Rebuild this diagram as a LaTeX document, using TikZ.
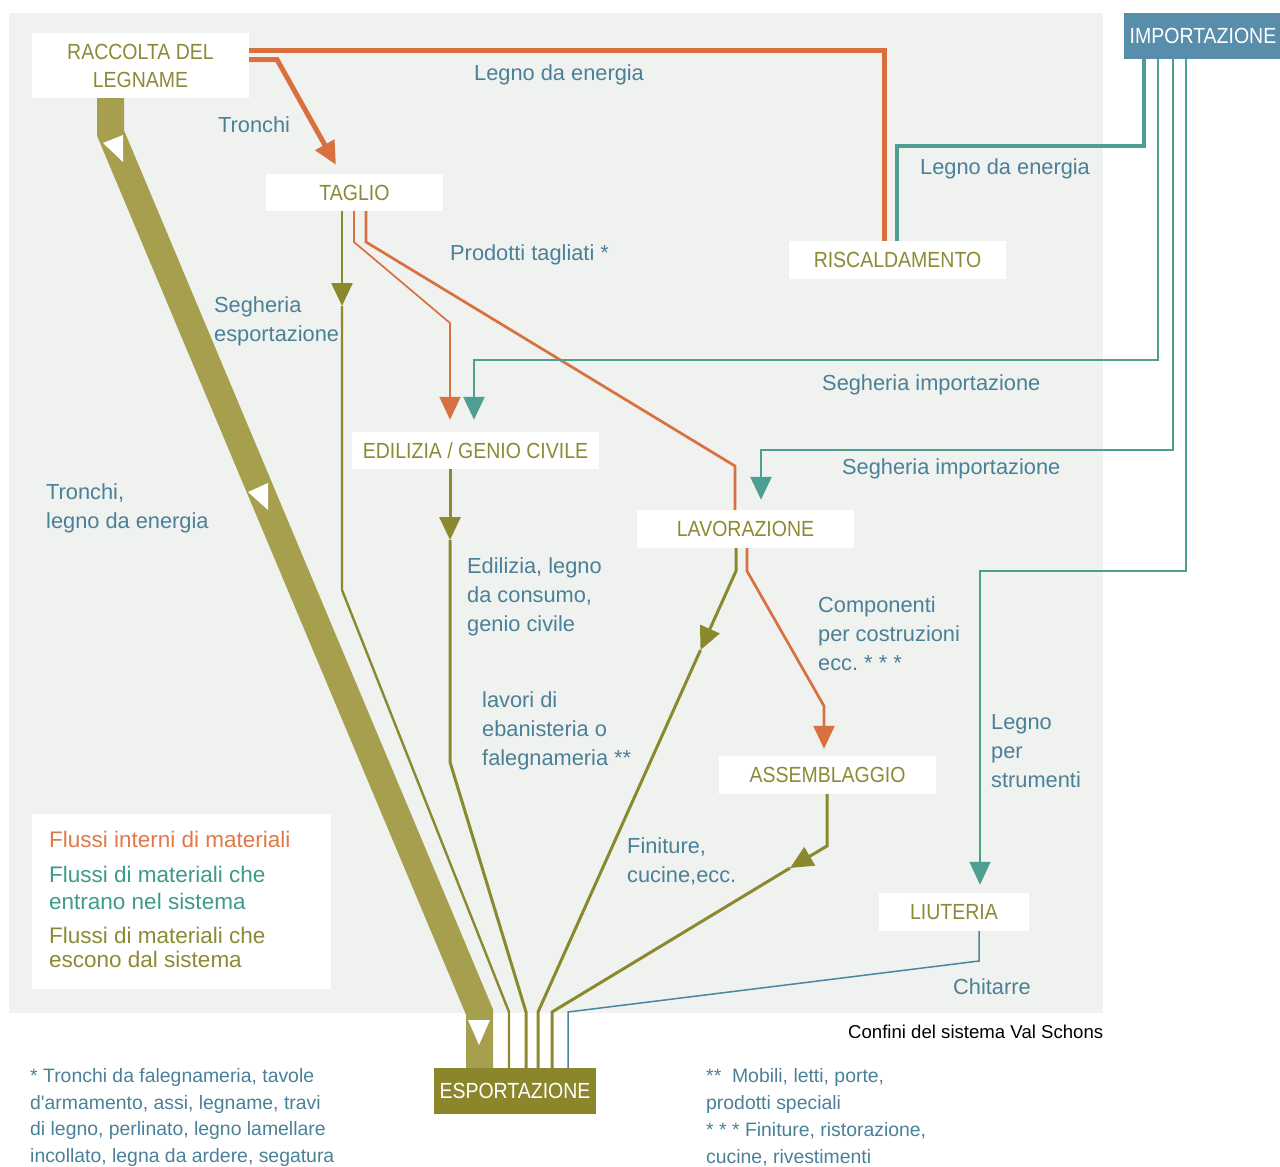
\documentclass[tikz,border=0pt]{standalone}
\usepackage{fontspec}
\setmainfont{Liberation Sans}
\newfontfamily\nodeff{Liberation Sans}[FakeStretch=0.89]
\usetikzlibrary{arrows.meta}
\definecolor{panelbg}{RGB}{240,242,239}
\definecolor{olvline}{RGB}{139,137,46}
\definecolor{olvtext}{RGB}{140,138,52}
\definecolor{bandcol}{RGB}{165,159,78}
\definecolor{orng}{RGB}{217,112,63}
\definecolor{tealA}{RGB}{79,158,148}
\definecolor{lblue}{RGB}{74,128,152}
\definecolor{impbox}{RGB}{88,141,171}
\definecolor{expbox}{RGB}{139,134,44}
\definecolor{chitcol}{RGB}{75,134,160}
\definecolor{legteal}{RGB}{62,154,138}
\definecolor{legorng}{RGB}{224,120,72}
\newcommand{\lblfont}{\fontsize{21.8}{29}\selectfont}
\newcommand{\nodefont}{\nodeff\fontsize{21.9}{28}\selectfont}
\newcommand{\notefontA}{\fontsize{19.4}{26.7}\selectfont}
\newcommand{\notefontB}{\fontsize{19.4}{27}\selectfont}
\newcommand{\legfontA}{\fontsize{22.5}{27}\selectfont}
\newcommand{\legfontB}{\fontsize{22.5}{24}\selectfont}
\newcommand{\confont}{\fontsize{18.6}{22}\selectfont}
\frenchspacing
\begin{document}
\begin{tikzpicture}[x=1pt,y=-1pt,line join=miter,
  nbox/.style={fill=white, inner sep=0pt, text=olvtext, font=\nodefont, align=center},
  lbl/.style={text=lblue, font=\lblfont, inner sep=0pt},
  harrow/.style={-{Triangle[width=21pt,length=23pt]}},
  or5/.style={draw=orng, line width=5pt},
  or3/.style={draw=orng, line width=2.7pt},
  or2/.style={draw=orng, line width=1.7pt},
  te4/.style={draw=tealA, line width=4pt},
  te3/.style={draw=tealA, line width=2.7pt},
  te1/.style={draw=tealA, line width=1.5pt},
  ol3/.style={draw=olvline, line width=3pt},
  ol2/.style={draw=olvline, line width=2.4pt},
  bl1/.style={draw=chitcol, line width=1.5pt},
  bandline/.style={draw=bandcol, line width=27pt}
]
\useasboundingbox (0,0) rectangle (1280,1167);
% system boundary panel
\fill[panelbg] (9,13) rectangle (1103,1013);

% nodes (geometry)
\node[nbox, minimum width=217pt, minimum height=65pt] (raccolta) at (140.5,65.5) {RACCOLTA DEL\\LEGNAME};
\node[nbox, minimum width=177pt, minimum height=37pt] (taglio) at (354.5,192.5) {TAGLIO};
\node[nbox, minimum width=217pt, minimum height=38pt] (riscald) at (897.5,260) {RISCALDAMENTO};
\node[nbox, fill=impbox, text=white, minimum width=158pt, minimum height=46pt] (import) at (1203,36) {IMPORTAZIONE};
\node[nbox, minimum width=247pt, minimum height=37pt] (edil) at (475.5,450.5) {EDILIZIA / GENIO CIVILE};
\node[nbox, minimum width=217pt, minimum height=38pt] (lav) at (745.5,529) {LAVORAZIONE};
\node[nbox, minimum width=217pt, minimum height=38pt] (assem) at (827.5,775) {ASSEMBLAGGIO};
\node[nbox, minimum width=150pt, minimum height=38pt] (liut) at (954,912) {LIUTERIA};
\node[nbox, fill=expbox, text=white, minimum width=162pt, minimum height=46pt] (esport) at (515,1091) {ESPORTAZIONE};
\node[fill=white, inner sep=0pt, minimum width=299pt, minimum height=175pt, anchor=north west] (legend) at (32,814) {};

% mid-path arrow points
\coordinate (aT) at (342,306);
\coordinate (aE) at (450,540);
\coordinate (aL) at (700.5,650);
\coordinate (aA) at (790,868);

% thick band: Tronchi, legno da energia
\draw[bandline] (raccolta.south -| 110.5,0) -- (110.5,133) -- (479.5,1012) -- (esport.north -| 479.5,0);
\fill[white] (103,143) -- (123,135) -- (123,162) -- cycle;
\fill[white] (248,492) -- (268,483) -- (268,510) -- cycle;
\fill[white] (468,1020) -- (490,1020) -- (479,1045) -- cycle;

% internal flows (orange)
\draw[or5] (raccolta.east |- 0,50.5) -- (884.5,50.5) -- (riscald.north -| 884.5,0);
\draw[or5, harrow, shorten >=10.3pt] (raccolta.east |- 0,59.5) -- (277,59.5) -- (taglio.north -| 341,0);
\draw[or2, harrow, shorten >=12pt] (taglio.south -| 354,0) -- (354,242) -- (450,323) -- (edil.north -| 450,0);
\draw[or3] (taglio.south -| 366,0) -- (366,242) -- (735,466) -- (lav.north -| 735,0);
\draw[or3, harrow, shorten >=7pt] (lav.south -| 747,0) -- (747,571) -- (824,706) -- (assem.north -| 824,0);

% incoming flows (teal)
\draw[te4] (import.south -| 1144,0) -- (1144,145.5) -- (897,145.5) -- (riscald.north -| 897,0);
\draw[te3, harrow, shorten >=12pt] (import.south -| 1158,0) -- (1158,360) -- (474,360) -- (edil.north -| 474,0);
\draw[te3, harrow, shorten >=10pt] (import.south -| 1173,0) -- (1173,450) -- (761,450) -- (lav.north -| 761,0);
\draw[te1, harrow, shorten >=8pt] (import.south -| 1186,0) -- (1186,571) -- (980,571) -- (liut.north -| 980,0);

% outgoing flows (olive)
\draw[ol2, harrow] (taglio.south -| aT) -- (aT);
\draw[ol2] (aT) -- (342,590) -- (509,1012) -- (esport.north -| 509,0);
\draw[ol3, harrow] (edil.south -| aE) -- (aE);
\draw[ol3] (aE) -- (450,762) -- (526,1012) -- (esport.north -| 526,0);
\draw[ol3, harrow] (lav.south -| 736,0) -- (736,571) -- (aL);
\draw[ol3] (aL) -- (538,1012) -- (esport.north -| 538,0);
\draw[ol3, harrow] (assem.south -| 827,0) -- (827,846) -- (aA);
\draw[ol3] (aA) -- (552,1012) -- (esport.north -| 552,0);
\draw[bl1] (liut.south -| 979,0) -- (979,961) -- (568,1012) -- (esport.north -| 568,0);

% labels
\node[lbl, anchor=base west] (l1) at (474,80) {Legno da energia};
\node[lbl, anchor=base west] (l2) at (218,132) {Tronchi};
\node[lbl, anchor=base west] (l3) at (920,174) {Legno da energia};
\node[lbl, anchor=base west] (l4) at (450,260) {Prodotti tagliati *};
\node[lbl, anchor=base west] (l5) at (822,390) {Segheria importazione};
\node[lbl, anchor=base west] (l6) at (842,474) {Segheria importazione};
\node[lbl, anchor=base west] (l7) at (953,994) {Chitarre};
\node[lbl, anchor=north west, align=left] (l8) at (214,296.4) {Segheria\\esportazione};
\node[lbl, anchor=north west, align=left] (l9) at (46,483.4) {Tronchi,\\legno da energia};
\node[lbl, anchor=north west, align=left] (l10) at (467,557.4) {Edilizia, legno\\da consumo,\\genio civile};
\node[lbl, anchor=north west, align=left] (l11) at (482,691.4) {lavori di\\ebanisteria o\\falegnameria **};
\node[lbl, anchor=north west, align=left] (l12) at (818,596.4) {Componenti\\per costruzioni\\ecc. * * *};
\node[lbl, anchor=north west, align=left] (l13) at (991,714.4) {Legno\\per\\strumenti};
\node[lbl, anchor=north west, align=left] (l14) at (627,837.4) {Finiture,\\cucine,ecc.};
\node[anchor=base west, inner sep=0pt, font=\confont, text=black] (confini) at (848,1038) {Confini del sistema Val Schons};

% legend texts
\node[anchor=base west, inner sep=0pt, font=\legfontA, text=legorng] (lg1) at (49,847) {Flussi interni di materiali};
\node[anchor=north west, inner sep=0pt, font=\legfontA, text=legteal, align=left] (lg2) at (49,865.9) {Flussi di materiali che\\entrano nel sistema};
\node[anchor=north west, inner sep=0pt, font=\legfontB, text=olvtext, align=left] (lg3) at (49,926.9) {Flussi di materiali che\\escono dal sistema};

% footnotes
\node[anchor=north west, inner sep=0pt, font=\notefontA, text=lblue, align=left] (fn1) at (30,1068.1) {* Tronchi da falegnameria, tavole\\d\textquotesingle armamento, assi, legname, travi\\di legno, perlinato, legno lamellare\\incollato, legna da ardere, segatura};
\node[anchor=north west, inner sep=0pt, font=\notefontB, text=lblue, align=left] (fn2) at (706,1068.1) {**~~Mobili, letti, porte,\\prodotti speciali\\* * * Finiture, ristorazione,\\cucine, rivestimenti};
\end{tikzpicture}
\end{document}
